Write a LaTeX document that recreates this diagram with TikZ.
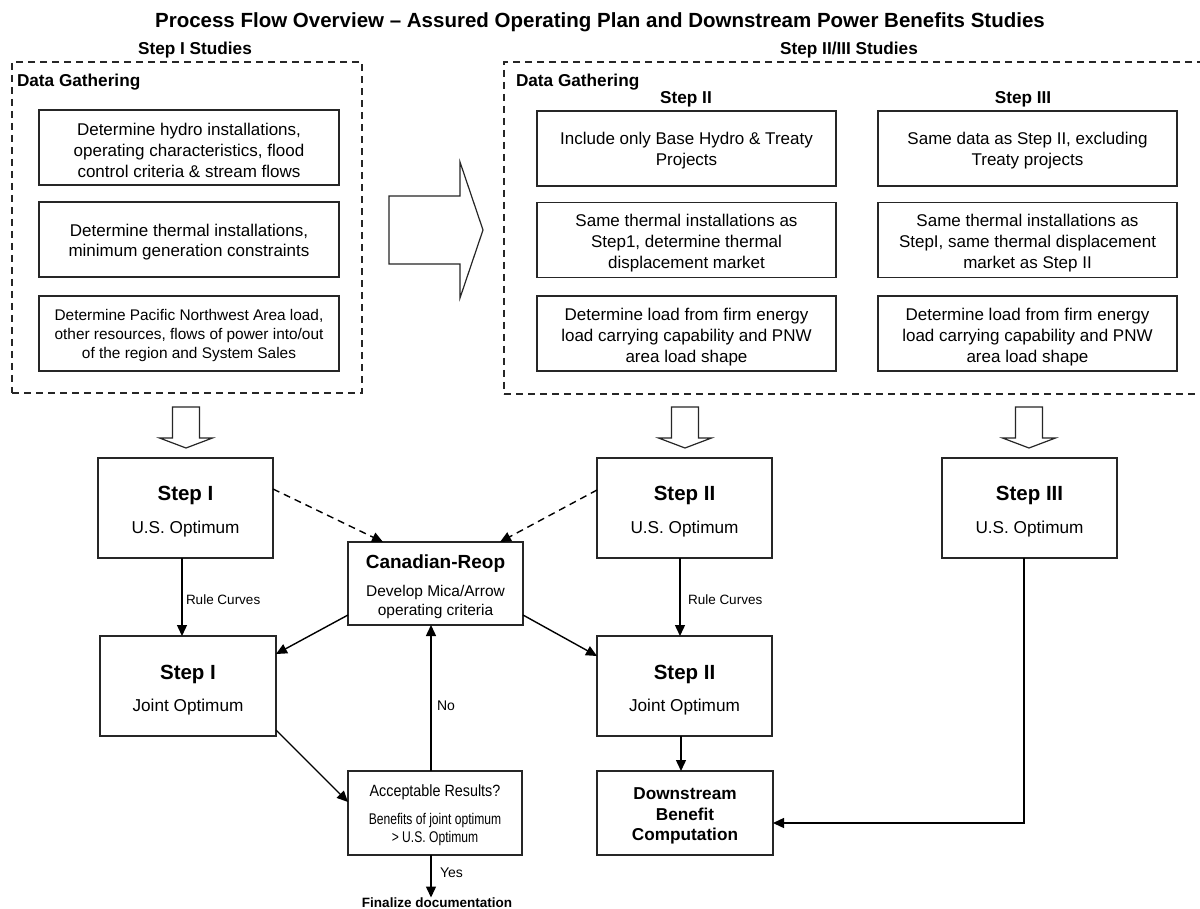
\documentclass[tikz,border=0pt]{standalone}
\usepackage{fontspec}
\setmainfont{Liberation Sans}
\newfontfamily\narrowsans[FakeStretch=0.78]{Liberation Sans}
\newfontfamily\semisans[FakeStretch=0.88]{Liberation Sans}
\usetikzlibrary{arrows.meta}
\begin{document}
\begin{tikzpicture}[x=1pt,y=-1pt,
  every node/.style={inner sep=0pt, outer sep=0pt, text=black},
  grpframe/.style={draw=black!85, line width=1.3pt, dash pattern=on 7pt off 5pt},
  databox/.style={draw=black!85, line width=1.3pt, minimum height=75pt},
  dbtext/.style={align=center, font=\fontsize{17}{20.7}\selectfont},
  dbsmall/.style={align=center, font=\fontsize{15.4}{19}\selectfont},
  stepbox/.style={draw=black!85, line width=1.3pt},
  txHead/.style={font=\bfseries\fontsize{17.2}{20}\selectfont, anchor=base},
  txBig/.style={font=\bfseries\fontsize{20.5}{24}\selectfont, anchor=base},
  txSub/.style={font=\fontsize{17.2}{20}\selectfont, anchor=base},
  txSmall/.style={font=\fontsize{13.5}{16}\selectfont, anchor=base west},
  arr/.style={draw=black, line width=1.4pt, -{Triangle[length=11pt,width=10pt]}},
  darr/.style={arr, dash pattern=on 7pt off 5pt},
  blockarrow/.style={draw=black!85, line width=1.2pt, fill=white},
  hollowdown/.pic={\draw[blockarrow] (-13.5,0) -- (13.5,0) -- (13.5,31) -- (26.5,31) -- (0,41) -- (-26.5,31) -- (-13.5,31) -- cycle;}
]
\fill[white] (0,0) rectangle (1200,909);
\path[use as bounding box] (0,0) rectangle (1200,909);

% title and headings
\node[font=\bfseries\fontsize{20.5}{24}\selectfont, anchor=base] (title) at (600,27.3)
  {Process Flow Overview – Assured Operating Plan and Downstream Power Benefits Studies};
\node[txHead] (hI) at (195,54.5) {Step I Studies};
\node[txHead] (hII) at (849,54.5) {Step II/III Studies};

% frames
\node[grpframe, minimum width=350pt, minimum height=331pt] (frI) at (187,227.5) {};
\node[grpframe, minimum width=700pt, minimum height=332pt] (frII) at (854,228) {};
\node[txHead, anchor=base west] (dgI) at (17,86.5) {Data Gathering};
\node[txHead, anchor=base west] (dgII) at (516,86.5) {Data Gathering};
\node[txHead] (cII) at (686,104) {Step II};
\node[txHead] (cIII) at (1023,104) {Step III};

% data boxes - Step I
\node[databox, minimum width=300pt] (l1) at (189,147.5) {};
\node[dbtext] (l1t) at ([yshift=-3pt]l1.center)
  {Determine hydro installations,\\operating characteristics, flood\\control criteria \& stream flows};
\node[databox, minimum width=300pt] (l2) at (189,239.5) {};
\node[dbtext] (l2t) at ([yshift=-2.5pt]l2.center)
  {Determine thermal installations,\\minimum generation constraints};
\node[databox, minimum width=300pt] (l3) at (189,333.5) {};
\node[dbsmall] (l3t) at ([yshift=-2pt]l3.center)
  {Determine Pacific Northwest Area load,\\other resources, flows of power into/out\\of the region and System Sales};

% data boxes - Step II
\node[databox, minimum width=299pt] (a1) at (686.5,148.5) {};
\node[dbtext] (a1t) at ([yshift=-2pt]a1.center)
  {Include only Base Hydro \& Treaty\\Projects};
\node[databox, minimum width=299pt] (a2) at (686.5,240) {};
\node[dbtext] (a2t) at ([yshift=-3pt]a2.center)
  {Same thermal installations as\\Step1, determine thermal\\displacement market};
\node[databox, minimum width=299pt] (a3) at (686.5,333.5) {};
\node[dbtext] (a3t) at ([yshift=-3.5pt]a3.center)
  {Determine load from firm energy\\load carrying capability and PNW\\area load shape};

% data boxes - Step III
\node[databox, minimum width=299pt] (b1) at (1027.5,148.5) {};
\node[dbtext] (b1t) at ([yshift=-2pt]b1.center)
  {Same data as Step II, excluding\\Treaty projects};
\node[databox, minimum width=299pt] (b2) at (1027.5,240) {};
\node[dbtext] (b2t) at ([yshift=-3pt]b2.center)
  {Same thermal installations as\\StepI, same thermal displacement\\market as Step II};
\node[databox, minimum width=299pt] (b3) at (1027.5,333.5) {};
\node[dbtext] (b3t) at ([yshift=-3.5pt]b3.center)
  {Determine load from firm energy\\load carrying capability and PNW\\area load shape};

% block arrows
\draw[blockarrow] (389,196) -- (460,196) -- (460,162) -- (483,230) -- (460,298) -- (460,264) -- (389,264) -- cycle;
\pic at (186,407) {hollowdown};
\pic at (685,407) {hollowdown};
\pic at (1029,407) {hollowdown};

% step boxes
\node[stepbox, minimum width=175pt, minimum height=100pt] (s1us) at (185.5,508) {};
\node[txBig] (s1usA) at (185.5,500.5) {Step I};
\node[txSub] (s1usB) at (185.5,533.5) {U.S. Optimum};

\node[stepbox, minimum width=175pt, minimum height=100pt] (s2us) at (684.5,508) {};
\node[txBig] (s2usA) at (684.5,500.5) {Step II};
\node[txSub] (s2usB) at (684.5,533.5) {U.S. Optimum};

\node[stepbox, minimum width=175pt, minimum height=100pt] (s3us) at (1029.5,508) {};
\node[txBig] (s3usA) at (1029.5,500.5) {Step III};
\node[txSub] (s3usB) at (1029.5,533.5) {U.S. Optimum};

\node[stepbox, minimum width=176pt, minimum height=100pt] (s1j) at (188,686) {};
\node[txBig] (s1jA) at (188,679.5) {Step I};
\node[txSub] (s1jB) at (188,711.5) {Joint Optimum};

\node[stepbox, minimum width=175pt, minimum height=100pt] (s2j) at (684.5,686) {};
\node[txBig] (s2jA) at (684.5,679.5) {Step II};
\node[txSub] (s2jB) at (684.5,711.5) {Joint Optimum};

\node[stepbox, minimum width=175pt, minimum height=83pt] (can) at (435.5,583.5) {};
\node[font=\bfseries\fontsize{19}{22}\selectfont, anchor=base] (canA) at (435.5,568.3) {Canadian-Reop};
\node[font=\fontsize{15.5}{18}\selectfont, anchor=base] (canB) at (435.5,596.7) {Develop Mica/Arrow};
\node[font=\fontsize{15.5}{18}\selectfont, anchor=base] (canC) at (435.5,615) {operating criteria};

\node[stepbox, minimum width=174pt, minimum height=84pt] (acc) at (435,813) {};
\node[font=\semisans\fontsize{16.3}{19}\selectfont, anchor=base] (accA) at (435,796.7) {Acceptable Results?};
\node[font=\narrowsans\fontsize{15.5}{18}\selectfont, anchor=base] (accB) at (435,824) {Benefits of joint optimum};
\node[font=\narrowsans\fontsize{15.5}{18}\selectfont, anchor=base] (accC) at (435,842.3) {> U.S. Optimum};

\node[stepbox, minimum width=176pt, minimum height=84pt] (ds) at (685,813) {};
\node[txHead] (dsA) at (685,799.3) {Downstream};
\node[txHead] (dsB) at (685,820) {Benefit};
\node[txHead] (dsC) at (685,840.7) {Computation};

\node[font=\bfseries\fontsize{13.5}{16}\selectfont, anchor=base] (fin) at (437,907.3) {Finalize documentation};

% connectors
\draw[arr] ([xshift=-3.5pt]s1us.south) -- ([xshift=-3.5pt]s1us.south |- s1j.north);
\node[txSmall] (rc1) at (186,604.3) {Rule Curves};
\draw[arr] ([xshift=-4.5pt]s2us.south) -- ([xshift=-4.5pt]s2us.south |- s2j.north);
\node[txSmall] (rc2) at (688,604.3) {Rule Curves};

\draw[darr] ([yshift=19pt]s1us.east) -- ([xshift=-52.5pt]can.north);
\draw[darr] ([yshift=18pt]s2us.west) -- ([xshift=64.5pt]can.north);

\draw[arr] ([yshift=10pt]can.south west) -- ([yshift=-18pt]s1j.north east);
\draw[arr] ([yshift=10pt]can.south east) -- ([yshift=-20pt]s2j.north west);
\draw[arr] ([yshift=6pt]s1j.south east) -- ([yshift=11pt]acc.west);

\draw[arr] ([xshift=-4pt]acc.north) -- ([xshift=-4pt]acc.north |- can.south);
\node[font=\fontsize{14}{16}\selectfont, anchor=base west] (no) at (437,710) {No};
\draw[arr] ([xshift=-4pt]acc.south) -- ([xshift=-4pt]acc.south |- fin.north);
\node[font=\fontsize{14}{16}\selectfont, anchor=base west] (yes) at (440,877.3) {Yes};

\draw[arr] ([xshift=-3.5pt]s2j.south) -- ([xshift=-3.5pt]s2j.south |- ds.north);
\draw[arr] ([xshift=-5.5pt]s3us.south) |- ([yshift=-10pt]ds.east);
\end{tikzpicture}
\end{document}
